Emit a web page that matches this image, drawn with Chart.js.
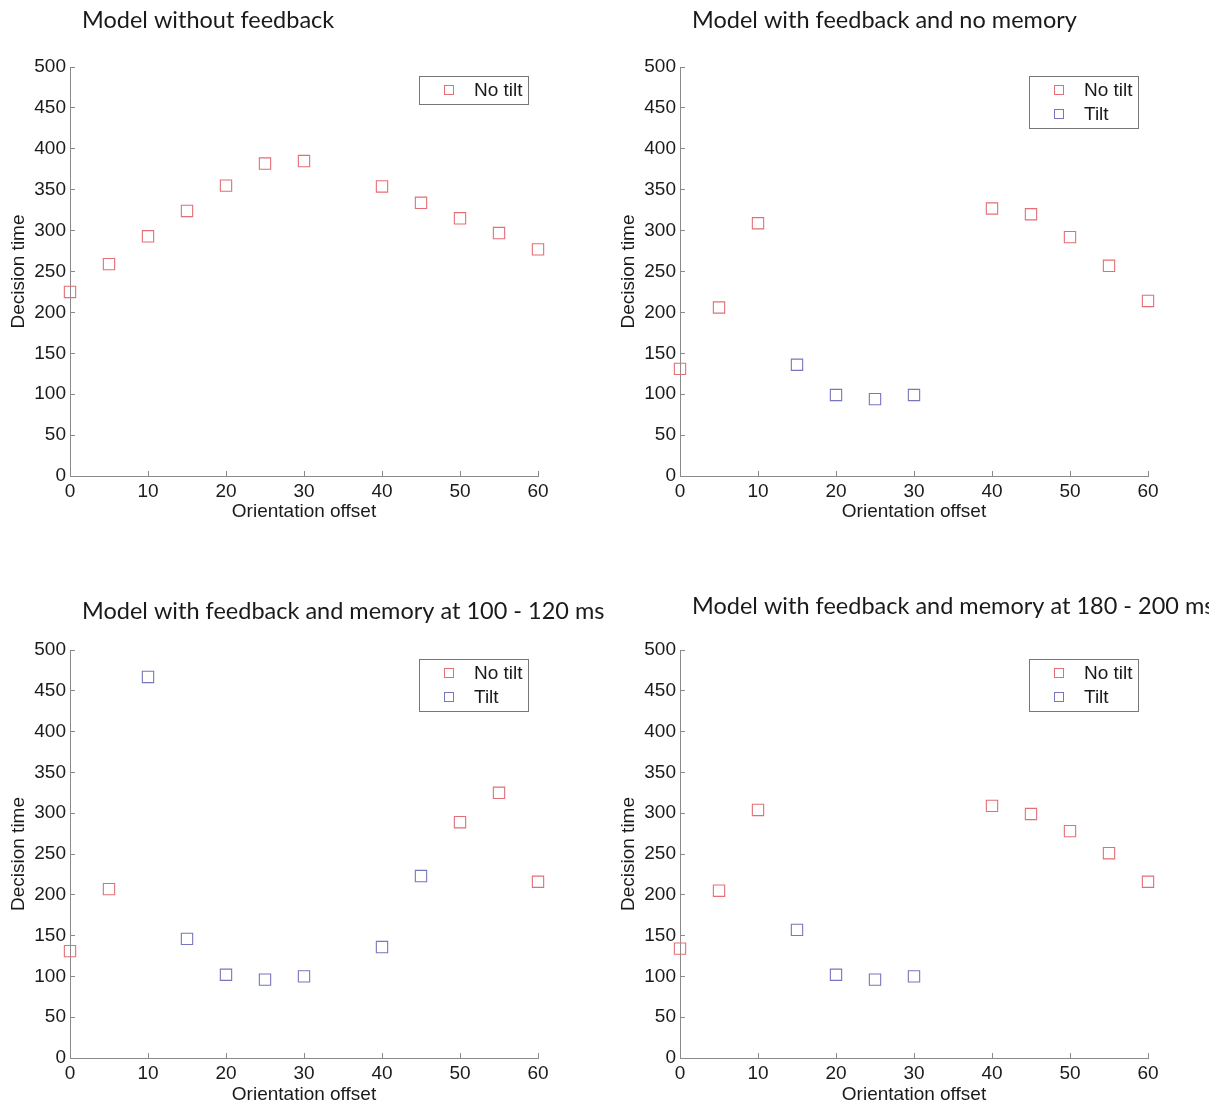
<!DOCTYPE html>
<html>
<head>
<meta charset="utf-8">
<title>Decision time vs orientation offset</title>
<script src="https://cdn.jsdelivr.net/npm/chart.js@4.4.1/dist/chart.umd.min.js"></script>
<style>
  body { margin: 0; background: #fff; width: 1209px; height: 1106px; position: relative; overflow: hidden; }
  canvas { position: absolute; }
</style>
</head>
<body>
<canvas id="p1" width="600" height="540" style="left:0;top:0"></canvas>
<canvas id="p2" width="599" height="540" style="left:610px;top:0"></canvas>
<canvas id="p3" width="620" height="521" style="left:0;top:585px"></canvas>
<canvas id="p4" width="599" height="521" style="left:610px;top:585px"></canvas>
<script>
// orientation offsets shared by every panel
const offsets = [0, 5, 10, 15, 20, 25, 30, 40, 45, 50, 55, 60];
const xTicks = [0, 10, 20, 30, 40, 50, 60];
const yTicks = [0, 50, 100, 150, 200, 250, 300, 350, 400, 450, 500];

// decision times (null = no marker at that offset)
const noTilt1 = [225, 259, 293, 324, 355, 382, 385, 354, 334, 315, 297, 277];

const noTilt2 = [131, 206, 309, null, null, null, null, 327, 320, 292, 257, 214];
const tilt2 = [null, null, null, 136, 99, 94, 99, null, null, null, null, null];

const noTilt3 = [131, 207, null, null, null, null, null, null, null, 289, 325, 216];
const tilt3 = [null, null, 467, 146, 102, 96, 100, 136, 223, null, null, null];

const noTilt4 = [134, 205, 304, null, null, null, null, 309, 299, 278, 251, 216];
const tilt4 = [null, null, null, 157, 102, 96, 100, null, null, null, null, null];

const titles = [
  "Model without feedback",
  "Model with feedback and no memory",
  "Model with feedback and memory at 100 - 120 ms",
  "Model with feedback and memory at 180 - 200 ms"
];

const RED = "rgb(228,110,118)";
const BLUE = "rgb(118,118,188)";
const AXIS = "#8a8a8a";
const TEXT = "#1a1a1a";
const FONT = "'Liberation Sans', Arial, Helvetica, sans-serif";

const toPoints = vals =>
  offsets.map((x, i) => ({ x: x, y: vals[i] })).filter(p => p.y !== null);

// panel title, left aligned a bit right of the y axis
const panelTitle = {
  id: "panelTitle",
  afterDraw(chart, args, opts) {
    const ctx = chart.ctx;
    ctx.save();
    ctx.font = "23.5px Lato, 'Open Sans', sans-serif";
    ctx.fillStyle = TEXT;
    ctx.textAlign = "left";
    ctx.textBaseline = "middle";
    ctx.fillText(opts.text, chart.chartArea.left + 12, opts.y);
    ctx.restore();
  }
};

// boxed legend in the top right corner of the plot, MATLAB style
const boxLegend = {
  id: "boxLegend",
  afterDraw(chart) {
    const ctx = chart.ctx;
    const sets = chart.data.datasets;
    const w = 109;
    const h = 4 + 24 * sets.length;
    const left = Math.round(chart.chartArea.right) - 10 - w;
    const top = chart.chartArea.top + 9;
    ctx.save();
    ctx.fillStyle = "#fff";
    ctx.fillRect(left, top, w, h);
    ctx.strokeStyle = "#777";
    ctx.lineWidth = 1;
    ctx.strokeRect(left + 0.5, top + 0.5, w, h);
    sets.forEach((ds, i) => {
      const cy = top + 14 + 24 * i;
      ctx.strokeStyle = ds.borderColor;
      ctx.lineWidth = 1;
      ctx.strokeRect(left + 25.5, cy - 4.5, 9, 9);
      ctx.fillStyle = TEXT;
      ctx.font = "19px " + FONT;
      ctx.textAlign = "left";
      ctx.textBaseline = "middle";
      ctx.fillText(ds.label, left + 55, cy + 1);
    });
    ctx.restore();
  }
};

function makeSet(label, vals, color) {
  return {
    label: label,
    data: toPoints(vals),
    pointStyle: "rect",
    pointRadius: 8,
    pointBorderWidth: 1.1,
    borderColor: color,
    backgroundColor: "rgba(0,0,0,0)",
    showLine: false,
    clip: false
  };
}

function drawPanel(id, title, titleY, sets, top, bottomPad, rightPad, xHeight, xTitlePad) {
  new Chart(document.getElementById(id), {
    type: "scatter",
    data: { datasets: sets },
    plugins: [panelTitle, boxLegend],
    options: {
      responsive: false,
      animation: false,
      layout: { padding: { left: 0, right: rightPad, top: top, bottom: bottomPad } },
      plugins: {
        legend: { display: false },
        tooltip: { enabled: false },
        panelTitle: { text: title, y: titleY }
      },
      scales: {
        x: {
          type: "linear",
          min: 0,
          max: 60,
          afterFit: s => { s.height = xHeight; },
          afterBuildTicks: s => { s.ticks = xTicks.map(v => ({ value: v })); },
          ticks: { color: TEXT, font: { family: FONT, size: 19 }, padding: 9, maxRotation: 0 },
          grid: { drawOnChartArea: false, drawTicks: true, tickLength: -5, color: AXIS },
          border: { color: AXIS, width: 1 },
          title: {
            display: true,
            text: "Orientation offset",
            color: TEXT,
            font: { family: FONT, size: 19 },
            padding: { top: 0, bottom: xTitlePad }
          }
        },
        y: {
          type: "linear",
          min: 0,
          max: 500,
          afterFit: s => { s.width = 70; },
          afterBuildTicks: s => { s.ticks = yTicks.map(v => ({ value: v })); },
          ticks: { color: TEXT, font: { family: FONT, size: 19 }, padding: 9 },
          grid: { drawOnChartArea: false, drawTicks: true, tickLength: -5, color: AXIS },
          border: { color: AXIS, width: 1 },
          title: {
            display: true,
            text: "Decision time",
            color: TEXT,
            font: { family: FONT, size: 19 },
            padding: { top: 7, bottom: 0 }
          }
        }
      }
    }
  });
}

drawPanel("p1", titles[0], 20, [makeSet("No tilt", noTilt1, RED)], 67, 14, 62, 50, 3);
drawPanel("p2", titles[1], 20,
  [makeSet("No tilt", noTilt2, RED), makeSet("Tilt", tilt2, BLUE)], 67, 14, 61, 50, 3);
drawPanel("p3", titles[2], 26,
  [makeSet("No tilt", noTilt3, RED), makeSet("Tilt", tilt3, BLUE)], 65, 0, 82, 48, 0);
drawPanel("p4", titles[3], 21,
  [makeSet("No tilt", noTilt4, RED), makeSet("Tilt", tilt4, BLUE)], 65, 0, 61, 48, 0);
</script>
</body>
</html>
